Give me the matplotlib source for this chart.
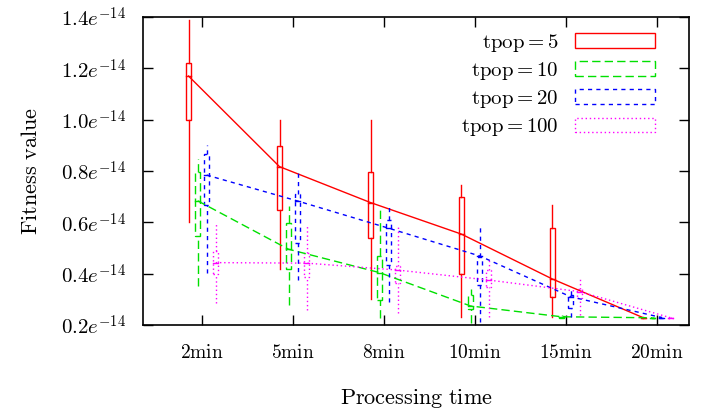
import numpy as np
import matplotlib
matplotlib.use("Agg")
import matplotlib.pyplot as plt
from matplotlib.patches import Rectangle

plt.rcParams['mathtext.fontset'] = 'cm'
plt.rcParams['font.family'] = 'serif'
plt.rcParams['font.serif'] = ['DejaVu Serif']

# values in units of 1e-14
times = ['2min', '5min', '8min', '10min', '15min', '20min']
series = ['tpop=5', 'tpop=10', 'tpop=20', 'tpop=100']

low = {
    'tpop=5':   [0.600, 0.417, 0.300, 0.230, 0.232, 0.226],
    'tpop=10':  [0.353, 0.278, 0.226, 0.207, 0.226, 0.226],
    'tpop=20':  [0.404, 0.375, 0.291, 0.210, 0.232, 0.226],
    'tpop=100': [0.285, 0.258, 0.246, 0.232, 0.239, 0.226],
}
q1 = {
    'tpop=5':   [0.999, 0.648, 0.538, 0.399, 0.308, 0.227],
    'tpop=10':  [0.547, 0.417, 0.297, 0.261, 0.228, 0.227],
    'tpop=20':  [0.667, 0.518, 0.434, 0.356, 0.265, 0.227],
    'tpop=100': [0.398, 0.388, 0.365, 0.347, 0.304, 0.227],
}
mean = {
    'tpop=5':   [1.170, 0.817, 0.677, 0.554, 0.379, 0.228],
    'tpop=10':  [0.684, 0.495, 0.404, 0.274, 0.232, 0.228],
    'tpop=20':  [0.784, 0.683, 0.577, 0.469, 0.310, 0.229],
    'tpop=100': [0.443, 0.441, 0.414, 0.375, 0.330, 0.228],
}
q3 = {
    'tpop=5':   [1.219, 0.897, 0.797, 0.697, 0.577, 0.229],
    'tpop=10':  [0.797, 0.596, 0.469, 0.317, 0.236, 0.229],
    'tpop=20':  [0.866, 0.710, 0.609, 0.466, 0.317, 0.230],
    'tpop=100': [0.488, 0.480, 0.430, 0.414, 0.339, 0.229],
}
high = {
    'tpop=5':   [1.388, 0.999, 0.999, 0.745, 0.667, 0.230],
    'tpop=10':  [0.845, 0.664, 0.661, 0.339, 0.238, 0.230],
    'tpop=20':  [0.901, 0.804, 0.664, 0.593, 0.343, 0.231],
    'tpop=100': [0.593, 0.586, 0.590, 0.453, 0.378, 0.230],
}

yticks = [0.2, 0.4, 0.6, 0.8, 1.0, 1.2, 1.4]
yticklabels = [r'$%.1fe^{-14}$' % v for v in yticks]

colors = ['#ff0000', '#00e000', '#0000ff', '#ff00ff']
styles = ['-', (0, (6, 3)), (0, (3, 3)), (0, (1, 2))]
offsets = [-0.15, -0.05, 0.05, 0.15]
bw = 0.055

fig = plt.figure(figsize=(7.07, 4.12), dpi=100)
ax = fig.add_axes([0.2023, 0.2112, 0.7722, 0.7475])

x = np.arange(1, len(times) + 1)
handles = []
for s, c, ls, off in zip(series, colors, styles, offsets):
    xs = x + off
    lo, a, m, b, hi = (np.array(d[s]) for d in (low, q1, mean, q3, high))
    for i in range(len(xs)):
        ax.plot([xs[i], xs[i]], [b[i], hi[i]], color=c, ls=ls, lw=1)
        ax.plot([xs[i], xs[i]], [lo[i], a[i]], color=c, ls=ls, lw=1)
        ax.add_patch(Rectangle((xs[i] - bw / 2, a[i]), bw, b[i] - a[i],
                               fill=False, edgecolor=c, ls=ls, lw=1))
        ax.plot([xs[i] - bw / 2, xs[i] + bw / 2], [m[i], m[i]], color=c, ls='-', lw=1)
    ax.plot(xs, m, color=c, ls=ls, lw=1)
    handles.append(Rectangle((0, 0), 1, 1, fill=False, edgecolor=c, ls=ls, lw=1,
                             label=r'$\mathrm{%s}$' % s.replace('=', '{=}')))

ax.set_xlim(0.35, 6.35)
ax.set_ylim(0.2, 1.4)
ax.set_xticks(x)
ax.set_xticklabels([r'$\mathrm{%s}$' % t for t in times], fontsize=14)
ax.set_yticks(yticks)
ax.set_yticklabels(yticklabels, fontsize=15)
ax.tick_params(direction='in', length=7, width=1, top=True, right=True)
ax.tick_params(axis='x', pad=14)
ax.tick_params(axis='y', pad=12)
for sp in ax.spines.values():
    sp.set_linewidth(1.2)

ax.set_xlabel(r'$\mathrm{Processing\ time}$', fontsize=16, labelpad=18)
ax.set_ylabel(r'$\mathrm{Fitness\ value}$', fontsize=16, labelpad=14)

ax.legend(handles=handles, loc='upper right', frameon=False, markerfirst=False,
          fontsize=15, handlelength=3.85, handleheight=0.72, labelspacing=0.3,
          handletextpad=0.8, borderaxespad=0.3, bbox_to_anchor=(0.965, 1.0))

fig.savefig('out.png', dpi=100)
